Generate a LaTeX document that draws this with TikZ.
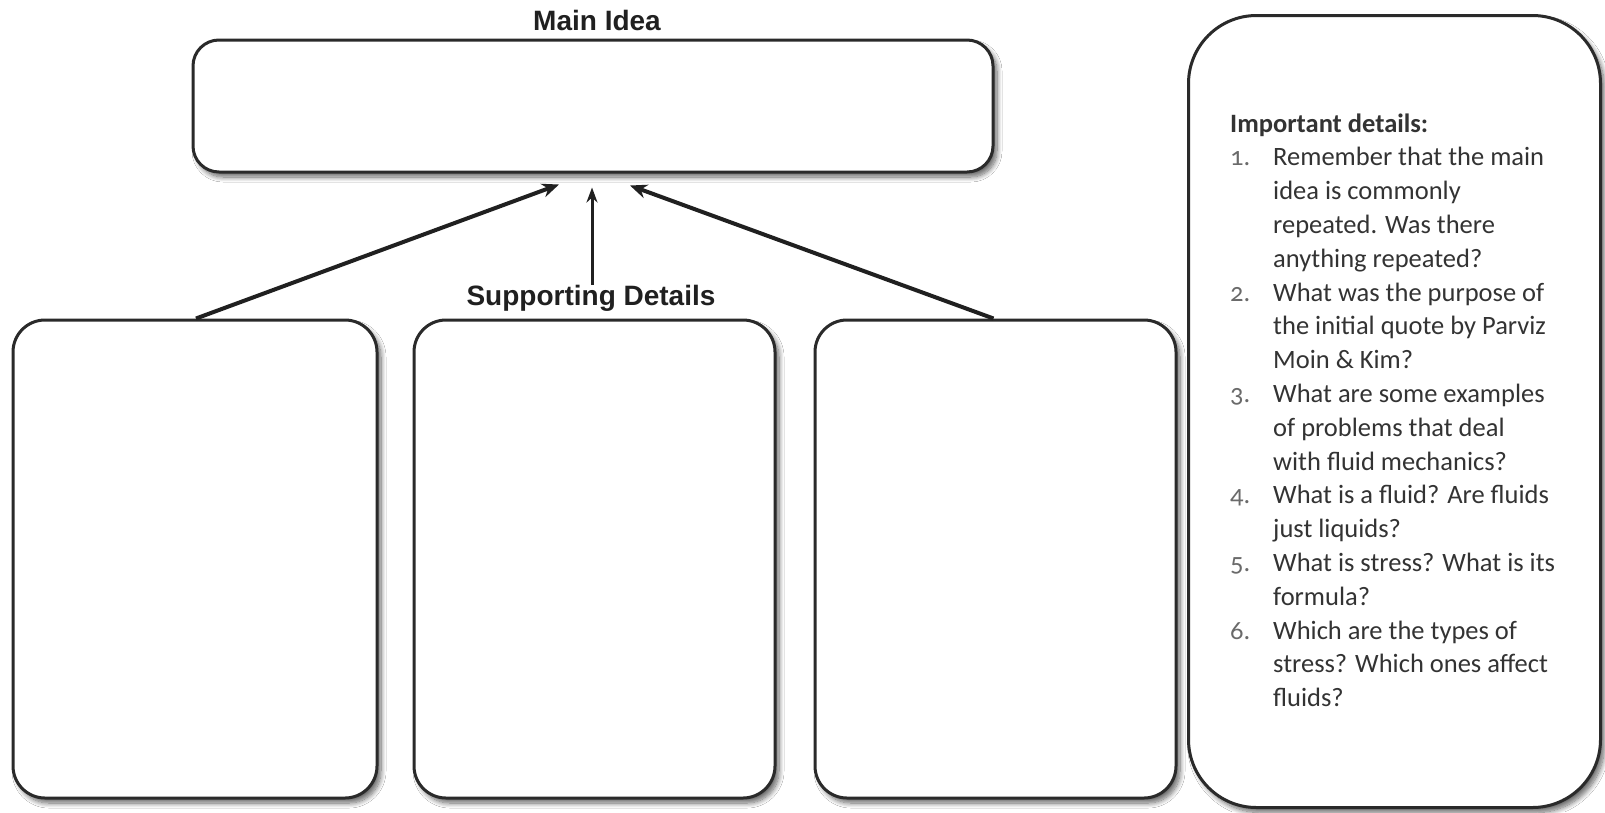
\documentclass[tikz,border=0pt]{standalone}
\usepackage{fontspec}
\setmainfont{Carlito}
\newfontfamily\labelfont{Liberation Sans}
\newfontfamily\numfont[Numbers=OldStyle]{Carlito}
\usetikzlibrary{arrows.meta,shadows.blur}
\definecolor{boxline}{HTML}{2A2A2A}
\definecolor{arrowc}{HTML}{202020}
\definecolor{txt}{HTML}{333333}
\definecolor{numc}{HTML}{6A6A6A}
\newcommand\itm[1]{\makebox[43pt][l]{\numfont\color{numc}#1}}
\newcommand\cont{\hspace*{43pt}}
\begin{document}
\begin{tikzpicture}[x=1pt,y=-1pt,
  box/.style={draw=boxline, line width=3pt, fill=white, rounded corners=#1,
    blur shadow={shadow xshift=4pt, shadow yshift=-5pt, shadow blur steps=10, shadow blur radius=5pt, shadow opacity=60}},
  box/.default=32pt,
  arr/.style={-{Stealth[length=17pt,width=14pt]}, line width=4pt, draw=arrowc},
  arrthin/.style={-{Stealth[length=15pt,width=11pt]}, line width=3pt, draw=arrowc},
  lbl/.style={font=\labelfont\bfseries\fontsize{28}{32}\selectfont, text=arrowc, inner sep=0pt},
  details/.style={font=\fontsize{26.5}{33.8}\selectfont, text=txt, inner sep=0pt, anchor=base west}
]
\path[fill=white] (0,0) rectangle (1605,812);
\useasboundingbox (0,0) rectangle (1605,812);

% main idea box
\node[box=26pt, minimum width=800pt, minimum height=132pt] (main) at (593,106) {};
\node[lbl, anchor=base] (mainlbl) at (597,30) {Main Idea};

% supporting detail boxes
\node[box, minimum width=364pt, minimum height=478pt] (b1) at (195,559) {};
\node[box, minimum width=361pt, minimum height=478pt] (b2) at (594.5,559) {};
\node[box, minimum width=361pt, minimum height=478pt] (b3) at (995.5,559) {};

\node[lbl, anchor=base] (sd) at (591,305) {Supporting Details};

% arrow tips
\coordinate (ltip) at ([xshift=-34pt,yshift=-11pt]main.south);
\coordinate (mtip) at ([xshift=-1pt,yshift=-14pt]main.south);
\coordinate (rtip) at ([xshift=37pt,yshift=-12pt]main.south);

\draw[arr] ([xshift=1pt]b1.north) -- (ltip);
\draw[arr] ([xshift=-2pt]b3.north) -- (rtip);
\draw[arrthin] (sd.north -| mtip) -- (mtip);

% important details box
\node[box=68pt, minimum width=412pt, minimum height=792pt] (imp) at (1394.5,411.5) {};

\node[details] (dtext) at (1230,132) {%
\begin{tabular}[t]{@{}l@{}}
{\bfseries Important details:}\\
\itm{1.}Remember that the main\\
\cont idea is commonly\\
\cont repeated. Was there\\
\cont anything repeated?\\
\itm{2.}What was the purpose of\\
\cont the initial quote by Parviz\\
\cont Moin \& Kim?\\
\itm{3.}What are some examples\\
\cont of problems that deal\\
\cont with fluid mechanics?\\
\itm{4.}What is a fluid? Are fluids\\
\cont just liquids?\\
\itm{5.}What is stress? What is its\\
\cont formula?\\
\itm{6.}Which are the types of\\
\cont stress? Which ones affect\\
\cont fluids?
\end{tabular}};
\end{tikzpicture}
\end{document}
